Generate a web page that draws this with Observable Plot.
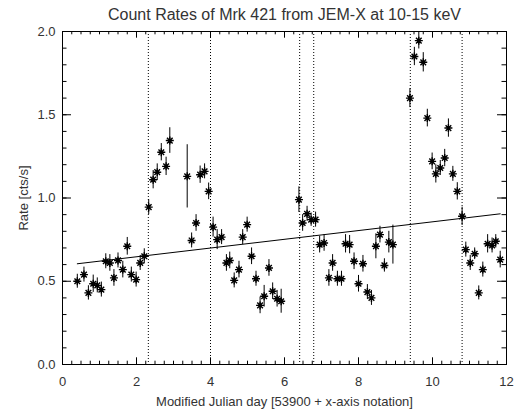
<!DOCTYPE html>
<html>
<head>
<meta charset="utf-8">
<script src="https://cdn.jsdelivr.net/npm/d3@7"></script>
<script src="https://cdn.jsdelivr.net/npm/@observablehq/plot@0.6"></script>
<style>
  html, body { margin: 0; padding: 0; background: #fff; }
</style>
</head>
<body>
<div id="chart"></div>
<script>
// ---- data ----
const title = "Count Rates of Mrk 421 from JEM-X at 10-15 keV";
const xLabel = "Modified Julian day [53900 + x-axis notation]";
const yLabel = "Rate [cts/s]";

const days = [
  0.40, 0.58, 0.70, 0.83, 0.94, 1.05, 1.17, 1.28, 1.39, 1.50,
  1.63, 1.75, 1.86, 1.99, 2.10, 2.21, 2.33, 2.45, 2.56, 2.67,
  2.80, 2.90, 3.37, 3.49, 3.61, 3.72, 3.84, 3.95, 4.07, 4.18,
  4.30, 4.43, 4.52, 4.64, 4.77, 4.87, 4.99, 5.11, 5.23, 5.34,
  5.45, 5.58, 5.68, 5.80, 5.91, 6.39, 6.49, 6.61, 6.72, 6.84,
  6.95, 7.07, 7.20, 7.30, 7.43, 7.54, 7.65, 7.76, 7.88, 8.00,
  8.12, 8.24, 8.35, 8.47, 8.58, 8.70, 8.82, 8.93, 9.39, 9.51,
  9.63, 9.75, 9.86, 9.99, 10.09, 10.21, 10.33, 10.43, 10.55, 10.67,
  10.80, 10.90, 11.02, 11.14, 11.25, 11.36, 11.49, 11.61, 11.71, 11.83
];
const rates = [
  0.50, 0.54, 0.43, 0.485, 0.475, 0.45, 0.62, 0.61, 0.52, 0.625,
  0.57, 0.71, 0.54, 0.51, 0.61, 0.65, 0.945, 1.11, 1.155, 1.275,
  1.19, 1.345, 1.13, 0.745, 0.85, 1.14, 1.16, 1.04, 0.825, 0.75,
  0.765, 0.61, 0.625, 0.505, 0.57, 0.765, 0.84, 0.65, 0.515, 0.355,
  0.41, 0.58, 0.44, 0.395, 0.38, 0.99, 0.85, 0.905, 0.87, 0.87,
  0.72, 0.73, 0.52, 0.61, 0.515, 0.515, 0.725, 0.72, 0.62, 0.485,
  0.605, 0.435, 0.40, 0.71, 0.78, 0.595, 0.735, 0.72, 1.60, 1.85,
  1.945, 1.815, 1.48, 1.22, 1.145, 1.18, 1.24, 1.42, 1.145, 1.04,
  0.89, 0.69, 0.61, 0.665, 0.43, 0.57, 0.725, 0.715, 0.74, 0.63
];
const errors = [
  0.042, 0.045, 0.043, 0.052, 0.045, 0.045, 0.045, 0.05, 0.05, 0.045,
  0.05, 0.053, 0.045, 0.045, 0.045, 0.045, 0.045, 0.055, 0.05, 0.052,
  0.055, 0.077, 0.19, 0.045, 0.05, 0.052, 0.045, 0.05, 0.06, 0.06,
  0.045, 0.05, 0.05, 0.045, 0.05, 0.045, 0.045, 0.05, 0.045, 0.05,
  0.065, 0.05, 0.05, 0.05, 0.072, 0.077, 0.05, 0.045, 0.04, 0.045,
  0.05, 0.05, 0.05, 0.05, 0.045, 0.045, 0.055, 0.055, 0.05, 0.05,
  0.05, 0.045, 0.045, 0.075, 0.05, 0.04, 0.065, 0.117, 0.057, 0.055,
  0.05, 0.058, 0.053, 0.05, 0.055, 0.045, 0.052, 0.055, 0.045, 0.052,
  0.055, 0.045, 0.045, 0.035, 0.042, 0.045, 0.055, 0.045, 0.04, 0.05
];

// linear trend line end points
const fitX = [0.40, 11.83];
const fitY = [0.605, 0.905];

// vertical dotted markers
const markerDays = [2.32, 4.00, 6.41, 6.79, 9.40, 10.80];

// axis ticks
const xMajorTicks = [0, 2, 4, 6, 8, 10, 12];
const yMajorTicks = [0.0, 0.5, 1.0, 1.5, 2.0];
const xMinorTicks = d3.range(0, 12.001, 0.25);
const yMinorTicks = d3.range(0, 2.001, 0.1);

// ---- build ----
const points = days.map((d, i) => ({day: d, rate: rates[i], err: errors[i]}));
const fit = fitX.map((d, i) => ({day: d, rate: fitY[i]}));

const W = 522, H = 413;
const mL = 62, mR = 16, mT = 31, mB = 49;
const fW = W - mL - mR, fH = H - mT - mB;

const idlAsterisk = {
  draw(ctx, size) {
    const r = Math.sqrt(size / Math.PI);
    const d = r * Math.SQRT1_2;
    ctx.moveTo(-r, 0); ctx.lineTo(r, 0);
    ctx.moveTo(0, -r); ctx.lineTo(0, r);
    ctx.moveTo(-d, -d); ctx.lineTo(d, d);
    ctx.moveTo(-d, d); ctx.lineTo(d, -d);
  }
};

const ink = "#000";
const textInk = "#333";

const chart = Plot.plot({
  width: W,
  height: H,
  marginLeft: mL,
  marginRight: mR,
  marginTop: mT,
  marginBottom: mB,
  style: {fontFamily: "'Liberation Sans', Arial, Helvetica, sans-serif", fontSize: "13px", color: textInk, background: "#fff"},
  x: {domain: [0, 12]},
  y: {domain: [0, 2]},
  marks: [
    Plot.frame({stroke: ink, strokeWidth: 1}),
    // dotted vertical markers
    Plot.ruleX(markerDays, {x: d => d, stroke: ink, strokeWidth: 1, strokeDasharray: "1,2"}),
    // tick marks (inward, all four sides)
    Plot.tickX(xMajorTicks, {x: d => d, insetTop: fH - 6.7, stroke: ink}),
    Plot.tickX(xMinorTicks, {x: d => d, insetTop: fH - 3.3, stroke: ink}),
    Plot.tickX(xMajorTicks, {x: d => d, insetBottom: fH - 6.7, stroke: ink}),
    Plot.tickX(xMinorTicks, {x: d => d, insetBottom: fH - 3.3, stroke: ink}),
    Plot.tickY(yMajorTicks, {y: d => d, insetRight: fW - 9, stroke: ink}),
    Plot.tickY(yMinorTicks, {y: d => d, insetRight: fW - 4.5, stroke: ink}),
    Plot.tickY(yMajorTicks, {y: d => d, insetLeft: fW - 9, stroke: ink}),
    Plot.tickY(yMinorTicks, {y: d => d, insetLeft: fW - 4.5, stroke: ink}),
    // axis labels
    Plot.axisX(xMajorTicks, {tickSize: 0, tickPadding: 12, tickFormat: d => String(d), label: null, fontSize: 13, fill: textInk}),
    Plot.axisY(yMajorTicks, {tickSize: 0, tickPadding: 7, tickFormat: d3.format(".1f"), label: null, fontSize: 13, fill: textInk}),
    // trend line
    Plot.line(fit, {x: "day", y: "rate", stroke: ink, strokeWidth: 1}),
    // error bars
    Plot.ruleX(points, {x: "day", y1: d => d.rate - d.err, y2: d => d.rate + d.err, stroke: ink, strokeWidth: 1}),
    // asterisk markers
    Plot.dot(points, {x: "day", y: "rate", symbol: idlAsterisk, r: 4, fill: "none", stroke: ink, strokeWidth: 1.4}),
    // titles
    Plot.text([title], {frameAnchor: "top", dy: -17, lineAnchor: "middle", text: d => d, fontSize: 16, fill: textInk}),
    Plot.text([xLabel], {frameAnchor: "bottom", dy: 37, lineAnchor: "middle", text: d => d, fontSize: 13, fill: textInk}),
    Plot.text([yLabel], {frameAnchor: "left", dx: -39, textAnchor: "middle", lineAnchor: "middle", rotate: -90, text: d => d, fontSize: 13, fill: textInk})
  ]
});

document.getElementById("chart").appendChild(chart);
</script>
</body>
</html>
